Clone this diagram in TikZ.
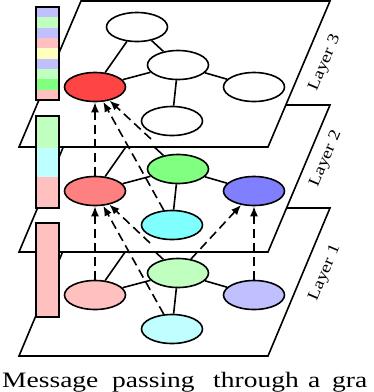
\documentclass[tikz,border=0pt]{standalone}
\usepackage{fontspec}
\setmainfont{Liberation Serif}
\usetikzlibrary{shapes.geometric,arrows.meta}
\definecolor{cRed}{HTML}{FF4444}
\definecolor{cSalmon}{HTML}{FF8080}
\definecolor{cGreen}{HTML}{80FF80}
\definecolor{cBlue}{HTML}{8080FF}
\definecolor{cCyan}{HTML}{80FFFF}
\definecolor{cPink}{HTML}{FFC0C0}
\definecolor{cLGreen}{HTML}{C0FFC0}
\definecolor{cLBlue}{HTML}{C0C0FF}
\definecolor{cLCyan}{HTML}{C0FFFF}
\definecolor{cYellow}{HTML}{FFFFC0}
\begin{document}
\begin{tikzpicture}[x=1pt,y=-1pt,
  plane/.style={draw,fill=white,line width=1.6pt,line join=miter},
  gnode/.style={ellipse,draw,line width=1.6pt,minimum width=61pt,minimum height=29pt,inner sep=0pt},
  gedge/.style={line width=1.6pt},
  msg/.style={line width=1.6pt,dash pattern=on 9pt off 5pt,-{Latex[length=10pt,width=8pt]}},
  barbox/.style={draw,line width=1.6pt},
  lbl/.style={rotate=67,inner sep=0pt,font=\fontsize{16}{16}\selectfont},
  captext/.style={anchor=base west,inner sep=0pt,font=\fontsize{22}{22}\selectfont}]
\useasboundingbox (0,0) rectangle (374,392);

% ---------- Layer 1 ----------
\draw[plane] (81,208) -- (330,208) -- (268,356) -- (19,356) -- cycle;
\coordinate (t1) at (137,235);
\node[gnode,fill=cLGreen] (c1) at (178,273) {};
\node[gnode,fill=cPink]   (l1) at (95,295) {};
\node[gnode,fill=cLBlue]  (r1) at (254,295) {};
\node[gnode,fill=cLCyan]  (b1) at (172,329) {};
\draw[gedge] (t1) -- (l1) (t1) -- (c1) (c1) -- (l1) (c1) -- (r1) (c1) -- (b1);

% ---------- Layer 2 ----------
\draw[plane] (81,105) -- (330,105) -- (268,252) -- (19,252) -- cycle;
\coordinate (t2) at (137,131);
\node[gnode,fill=cGreen]  (c2) at (178,169) {};
\node[gnode,fill=cSalmon] (l2) at (95,191) {};
\node[gnode,fill=cBlue]   (r2) at (254,191) {};
\node[gnode,fill=cCyan]   (b2) at (172,225) {};
\draw[gedge] (t2) -- (l2) (t2) -- (c2) (c2) -- (l2) (c2) -- (r2) (c2) -- (b2);

% ---------- Layer 3 ----------
\draw[plane] (81,1) -- (330,1) -- (268,147) -- (19,147) -- cycle;
\node[gnode,fill=white] (t3) at (137,27) {};
\node[gnode,fill=white] (c3) at (178,65) {};
\node[gnode,fill=cRed]  (l3) at (95,87) {};
\node[gnode,fill=white] (r3) at (254,87) {};
\node[gnode,fill=white] (b3) at (172,121) {};
\draw[gedge] (t3) -- (l3) (t3) -- (c3) (c3) -- (l3) (c3) -- (r3) (c3) -- (b3);

% ---------- Layer labels ----------
\node[lbl] (lab3) at (325,63)  {\scalebox{1.2}[1]{Layer 3}};
\node[lbl] (lab2) at (326,159) {\scalebox{1.2}[1]{Layer 2}};
\node[lbl] (lab1) at (325,273) {\scalebox{1.2}[1]{Layer 1}};

% ---------- Feature bars ----------
\foreach \c [count=\i from 0] in {cLBlue,cLGreen,cLBlue,cPink,cYellow,cLBlue,cLGreen,cGreen,cPink}
  \fill[\c] (36,{7+\i*93/9}) rectangle (59,{7+(\i+1)*93/9});
\draw[barbox] (36,7) rectangle (59,100);
\fill[cLGreen] (36,116) rectangle (59,148);
\fill[cLCyan]  (36,148) rectangle (59,177);
\fill[cPink]   (36,177) rectangle (59,208);
\draw[barbox] (36,116) rectangle (59,208);
\draw[barbox,fill=cPink] (36,223) rectangle (59,317);

% ---------- Message passing arrows ----------
\coordinate (s2) at (151,139);
\coordinate (s1) at (150,243);
\draw[msg] (l2.north) -- (l3.south);
\draw[msg] (b2) -- (l3);
\draw[msg] (s2) -- (l3);
\draw[msg] (l1.north) -- (l2.south);
\draw[msg] (b1) -- (l2);
\draw[msg] (s1) -- (l2);
\draw[msg] (r1.north) -- (r2.south);
\draw[msg] (c1) -- (r2);

% ---------- Caption ----------
\node[captext] (w1) at (2,387)   {\scalebox{1.25}[1]{Message}};
\node[captext] (w2) at (112,387) {\scalebox{1.25}[1]{passing}};
\node[captext] (w3) at (213,387) {\scalebox{1.25}[1]{through}};
\node[captext] (w4) at (308,387) {\scalebox{1.25}[1]{a}};
\node[captext] (w5) at (332,387) {\scalebox{1.25}[1]{gra}};
\end{tikzpicture}
\end{document}
